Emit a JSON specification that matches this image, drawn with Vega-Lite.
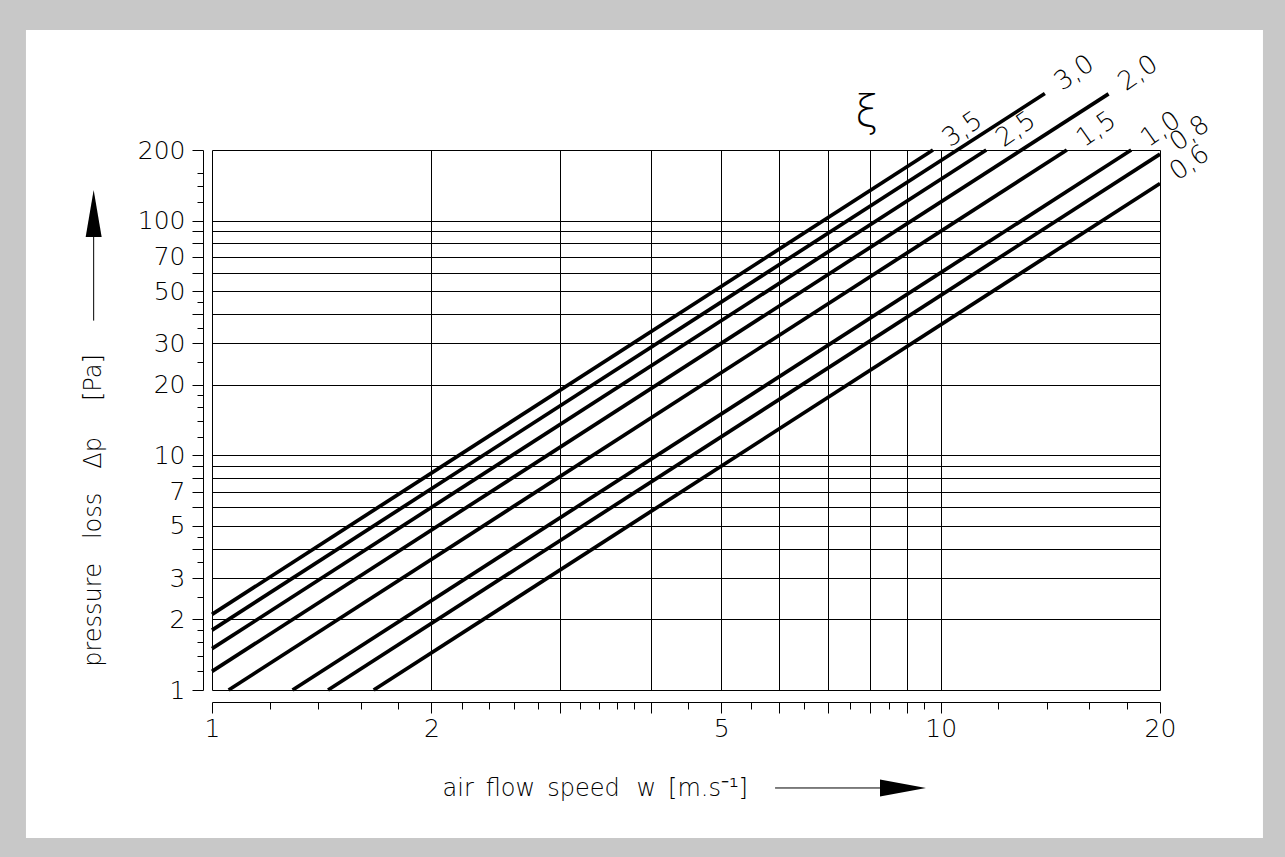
{
  "$schema": "https://vega.github.io/schema/vega-lite/v6.json",
  "width": 948,
  "height": 540,
  "autosize": "none",
  "padding": {"left": 212, "top": 150, "right": 125, "bottom": 167},
  "background": "#c8c8c8",
  "config": {
    "font": "DejaVu Sans",
    "view": {"stroke": null},
    "axis": {
      "domainColor": "black",
      "domainWidth": 1,
      "tickColor": "black",
      "tickWidth": 1,
      "labelColor": "black",
      "labelFontSize": 25,
      "labelFontWeight": 200,
      "labelFlush": false,
      "labelOverlap": false,
      "titleColor": "black",
      "titleFontSize": 24,
      "titleFontWeight": 200,
      "gridColor": "black",
      "gridWidth": 1
    }
  },
  "datasets": {
    "curves": [
      {"xi": "3,5", "pt": "start", "w": 1, "dp": 2.1},
      {"xi": "3,5", "pt": "end", "w": 9.76, "dp": 200},
      {"xi": "3,0", "pt": "start", "w": 1, "dp": 1.8},
      {"xi": "3,0", "pt": "end", "w": 13.9, "dp": 348},
      {"xi": "2,5", "pt": "start", "w": 1, "dp": 1.5},
      {"xi": "2,5", "pt": "end", "w": 11.55, "dp": 200},
      {"xi": "2,0", "pt": "start", "w": 1, "dp": 1.2},
      {"xi": "2,0", "pt": "end", "w": 17.0, "dp": 347},
      {"xi": "1,5", "pt": "start", "w": 1.054, "dp": 1},
      {"xi": "1,5", "pt": "end", "w": 14.9, "dp": 200},
      {"xi": "1,0", "pt": "start", "w": 1.29, "dp": 1},
      {"xi": "1,0", "pt": "end", "w": 18.26, "dp": 200},
      {"xi": "0,8", "pt": "start", "w": 1.443, "dp": 1},
      {"xi": "0,8", "pt": "end", "w": 20, "dp": 192},
      {"xi": "0,6", "pt": "start", "w": 1.667, "dp": 1},
      {"xi": "0,6", "pt": "end", "w": 20, "dp": 144}
    ]
  },
  "layer": [
    {
      "data": {"values": [{"part": "sheet"}]},
      "mark": {"type": "rect", "fill": "white", "clip": false},
      "encoding": {
        "x": {"datum": 0.5555, "type": "quantitative", "scale": {"type": "log", "domain": [1, 20]}},
        "x2": {"datum": 27.69},
        "y": {"datum": 649.3, "type": "quantitative", "scale": {"type": "log", "domain": [1, 200]}},
        "y2": {"datum": 0.2341}
      }
    },
    {
      "data": {"name": "curves"},
      "mark": {"type": "line", "color": "black", "strokeWidth": 3.7, "strokeCap": "butt", "clip": false},
      "encoding": {
        "x": {
          "field": "w", "type": "quantitative",
          "scale": {"type": "log", "domain": [1, 20]},
          "axis": {
            "title": "air\u2002flow\u2002speed\u2002\u2009w\u2002[m.s\u207b\u00b9]",
            "values": [1,1.2,1.4,1.6,1.8,2,2.2,2.4,2.6,2.8,3,3.2,3.4,3.6,3.8,4,4.5,5,5.5,6,6.5,7,7.5,8,8.5,9,9.5,10,12,14,16,18,20],
            "offset": 12,
            "grid": true,
            "zindex": 1,
            "gridOpacity": {"condition": {"test": "indexof([1,2,3,4,5,6,7,8,9,10,20], datum.value) >= 0", "value": 1}, "value": 0},
            "tickSize": {"condition": {"test": "indexof([1,2,3,4,5,6,7,8,9,10,20], datum.value) >= 0", "value": 11}, "value": 7},
            "labelExpr": "indexof([1,2,5,10,20], datum.value) >= 0 ? '' + datum.value : ''",
            "labelPadding": 3,
            "titleX": 230,
            "titleY": 86,
            "titleAlign": "left",
            "titleBaseline": "middle"
          }
        },
        "y": {
          "field": "dp", "type": "quantitative",
          "scale": {"type": "log", "domain": [1, 200]},
          "axis": {
            "title": "pressure\u2003loss\u2003\u0394p\u2003\u2002[Pa]",
            "values": [1,1.2,1.4,1.6,1.8,2,2.5,3,3.5,4,4.5,5,6,7,8,9,10,12,14,16,18,20,25,30,35,40,45,50,60,70,80,90,100,120,140,160,200],
            "offset": 9,
            "grid": true,
            "zindex": 1,
            "gridOpacity": {"condition": {"test": "indexof([1,2,3,4,5,6,7,8,9,10,20,30,40,50,60,70,80,90,100,200], datum.value) >= 0", "value": 1}, "value": 0},
            "tickSize": {"condition": {"test": "indexof([1,2,3,4,5,6,7,8,9,10,20,30,40,50,60,70,80,90,100,200], datum.value) >= 0", "value": 11}, "value": 6},
            "labelExpr": "indexof([1,2,3,5,7,10,20,30,50,70,100,200], datum.value) >= 0 ? '' + datum.value : ''",
            "labelPadding": 7,
            "titleAngle": 270,
            "titleX": -110,
            "titleY": 360,
            "titleAlign": "center",
            "titleBaseline": "middle"
          }
        },
        "detail": {"field": "xi"}
      }
    },
    {
      "data": {"name": "curves"},
      "transform": [{"filter": "datum.pt == 'end'"}],
      "mark": {"type": "text", "angle": 325, "align": "center", "baseline": "middle", "dx": 36, "dy": 0, "fontSize": 26, "fontWeight": 200, "color": "black", "clip": false},
      "encoding": {
        "x": {"field": "w", "type": "quantitative", "scale": {"type": "log", "domain": [1, 20]}},
        "y": {"field": "dp", "type": "quantitative", "scale": {"type": "log", "domain": [1, 200]}},
        "text": {"field": "xi"}
      }
    },
    {
      "data": {"values": [{"sym": "\u03be"}]},
      "mark": {"type": "text", "align": "center", "baseline": "middle", "fontSize": 42, "fontWeight": 200, "color": "black", "clip": false},
      "encoding": {
        "x": {"datum": 7.925, "type": "quantitative", "scale": {"type": "log", "domain": [1, 20]}},
        "y": {"datum": 287.5, "type": "quantitative", "scale": {"type": "log", "domain": [1, 200]}},
        "text": {"field": "sym"}
      }
    },
    {
      "data": {"values": [{"part": "x arrow shaft"}]},
      "mark": {"type": "rule", "color": "black", "strokeWidth": 1, "clip": false},
      "encoding": {
        "x": {"datum": 5.926, "type": "quantitative", "scale": {"type": "log", "domain": [1, 20]}},
        "x2": {"datum": 8.3},
        "y": {"datum": 0.3824, "type": "quantitative", "scale": {"type": "log", "domain": [1, 200]}}
      }
    },
    {
      "data": {"values": [{"part": "x arrow head"}]},
      "mark": {"type": "point", "shape": "M1,0L-1,-0.37L-1,0.37Z", "size": 2116, "filled": true, "color": "black", "opacity": 1, "clip": false},
      "encoding": {
        "x": {"datum": 8.878, "type": "quantitative", "scale": {"type": "log", "domain": [1, 20]}},
        "y": {"datum": 0.3824, "type": "quantitative", "scale": {"type": "log", "domain": [1, 200]}}
      }
    },
    {
      "data": {"values": [{"part": "y arrow shaft"}]},
      "mark": {"type": "rule", "color": "black", "strokeWidth": 1, "clip": false},
      "encoding": {
        "x": {"datum": 0.688, "type": "quantitative", "scale": {"type": "log", "domain": [1, 20]}},
        "y": {"datum": 37.5, "type": "quantitative", "scale": {"type": "log", "domain": [1, 200]}},
        "y2": {"datum": 86}
      }
    },
    {
      "data": {"values": [{"part": "y arrow head"}]},
      "mark": {"type": "point", "shape": "M0,-1L0.34,1L-0.34,1Z", "size": 2209, "filled": true, "color": "black", "opacity": 1, "clip": false},
      "encoding": {
        "x": {"datum": 0.688, "type": "quantitative", "scale": {"type": "log", "domain": [1, 20]}},
        "y": {"datum": 107.3, "type": "quantitative", "scale": {"type": "log", "domain": [1, 200]}}
      }
    }
  ]
}
